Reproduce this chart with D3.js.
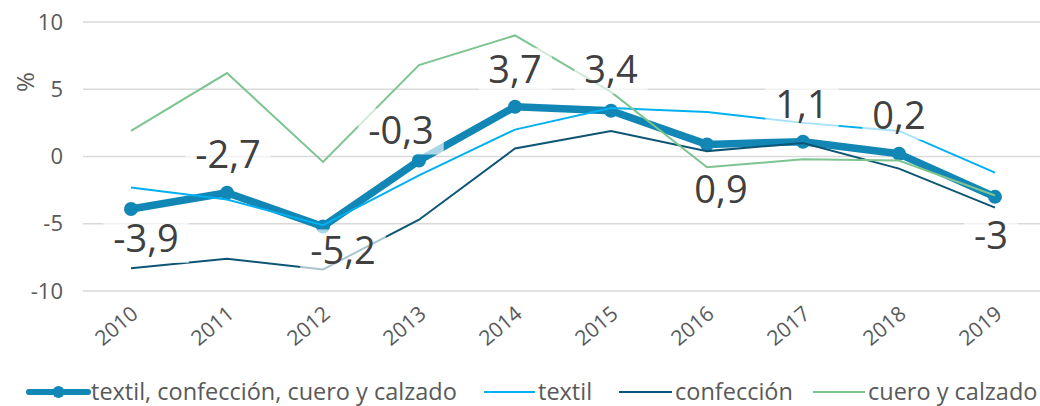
<!DOCTYPE html>
<html>
<head>
    <script src="https://d3js.org/d3.v7.min.js"></script>
    <style>
        body { margin: 0; background: #fff; }
        text { font-family: "Open Sans", sans-serif; }
    </style>
</head>
<body>
    <div id="chart"></div>
    <script>
        const width = 1040, height = 406

        const years = ["2010", "2011", "2012", "2013", "2014", "2015", "2016", "2017", "2018", "2019"]
        const yTicks = [-10, -5, 0, 5, 10]
        const total = [-3.9, -2.7, -5.2, -0.3, 3.7, 3.4, 0.9, 1.1, 0.2, -3]
        const textil = [-2.3, -3.2, -5.1, -1.4, 2.0, 3.6, 3.3, 2.5, 1.9, -1.2]
        const confeccion = [-8.3, -7.6, -8.4, -4.7, 0.6, 1.9, 0.4, 1.0, -0.9, -3.8]
        const cuero = [1.9, 6.2, -0.4, 6.8, 9.0, 4.8, -0.8, -0.2, -0.3, -2.9]
        const totalLabels = ["-3,9", "-2,7", "-5,2", "-0,3", "3,7", "3,4", "0,9", "1,1", "0,2", "-3"]

        // where each data label sits relative to its point
        const labelDx = [15, 1, 20, -18, 0, 0, 14, -1, 0, -4]
        const labelDy = [43, -25, 38, -17, -24, -28, 59, -24, -25, 52]

        const colors = { total: "#1287b5", textil: "#00b0f0", confeccion: "#0d5574", cuero: "#7cc490" }

        const svg = d3.select("#chart").append("svg")
            .attr("width", width)
            .attr("height", height)

        const x = d3.scalePoint().domain(years).range([83, 1043]).padding(0.5)
        const y = d3.scaleLinear().domain([-10, 10]).range([291, 22])

        // gridlines
        svg.append("g").selectAll("line")
            .data(yTicks)
            .enter().append("line")
            .attr("x1", 83).attr("x2", width)
            .attr("y1", d => y(d)).attr("y2", d => y(d))
            .attr("stroke", "#d9d9d9")
            .attr("stroke-width", 1.5)

        // y axis
        const yAxis = svg.append("g")
            .attr("transform", "translate(63,0)")
            .call(d3.axisLeft(y).tickValues(yTicks).tickFormat(d => String(d)).tickSize(0).tickPadding(0))
        yAxis.select(".domain").remove()
        yAxis.selectAll("text")
            .attr("font-size", 22)
            .attr("fill", "#595959")
            .attr("font-family", "Open Sans")

        svg.append("text")
            .attr("transform", "translate(34,82) rotate(-90)")
            .attr("text-anchor", "middle")
            .attr("font-size", 24)
            .attr("fill", "#595959")
            .text("%")

        // x axis
        const xAxis = svg.append("g")
            .attr("transform", "translate(0,300)")
            .call(d3.axisBottom(x).tickSize(0).tickPadding(0))
        xAxis.select(".domain").remove()
        xAxis.selectAll("text")
            .attr("font-size", 21)
            .attr("fill", "#595959")
            .attr("font-family", "Open Sans")
            .attr("text-anchor", "end")
            .attr("dy", 0)
            .attr("transform", "translate(8,16) rotate(-40)")

        const line = d3.line()
            .x((d, i) => x(years[i]))
            .y(d => y(d))

        // main series first, thin series on top
        svg.append("path")
            .datum(total)
            .attr("fill", "none")
            .attr("stroke", colors.total)
            .attr("stroke-width", 7.5)
            .attr("stroke-linejoin", "round")
            .attr("d", line)
        svg.append("g").selectAll("circle")
            .data(total)
            .enter().append("circle")
            .attr("cx", (d, i) => x(years[i]))
            .attr("cy", d => y(d))
            .attr("r", 7)
            .attr("fill", colors.total)

        const thin = [
            { values: textil, color: colors.textil },
            { values: confeccion, color: colors.confeccion },
            { values: cuero, color: colors.cuero }
        ]
        thin.forEach(s => {
            svg.append("path")
                .datum(s.values)
                .attr("fill", "none")
                .attr("stroke", s.color)
                .attr("stroke-width", 2)
                .attr("d", line)
        })

        // data labels with translucent white boxes
        const labels = svg.append("g")
        total.forEach((v, i) => {
            const g = labels.append("g")
            const rect = g.append("rect")
            const t = g.append("text")
                .attr("x", x(years[i]) + labelDx[i])
                .attr("y", y(v) + labelDy[i])
                .attr("text-anchor", "middle")
                .attr("font-size", 38)
                .attr("fill", "#404040")
                .text(totalLabels[i])
            const bb = t.node().getBBox()
            rect.attr("x", bb.x - 10)
                .attr("y", bb.y + 6)
                .attr("width", bb.width + 20)
                .attr("height", bb.height - 6)
                .attr("fill", "#fff")
                .attr("opacity", 0.65)
        })

        // legend
        const legend = svg.append("g").attr("transform", "translate(0,392)")
        const items = [
            { name: "textil, confección, cuero y calzado", color: colors.total, x1: 29, x2: 88, w: 6, marker: true },
            { name: "textil", color: colors.textil, x1: 484, x2: 535, w: 2 },
            { name: "confección", color: colors.confeccion, x1: 619, x2: 672, w: 2 },
            { name: "cuero y calzado", color: colors.cuero, x1: 813, x2: 865, w: 2 }
        ]
        items.forEach(it => {
            legend.append("line")
                .attr("x1", it.x1).attr("x2", it.x2)
                .attr("y1", 0).attr("y2", 0)
                .attr("stroke", it.color)
                .attr("stroke-width", it.w)
                .attr("stroke-linecap", it.marker ? "round" : "butt")
            if (it.marker) {
                legend.append("circle")
                    .attr("cx", (it.x1 + it.x2) / 2)
                    .attr("cy", 0)
                    .attr("r", 6)
                    .attr("fill", it.color)
            }
            legend.append("text")
                .attr("x", it.x2 + 3)
                .attr("y", 8)
                .attr("font-size", 23.5)
                .attr("fill", "#595959")
                .text(it.name)
        })
    </script>
</body>
</html>
